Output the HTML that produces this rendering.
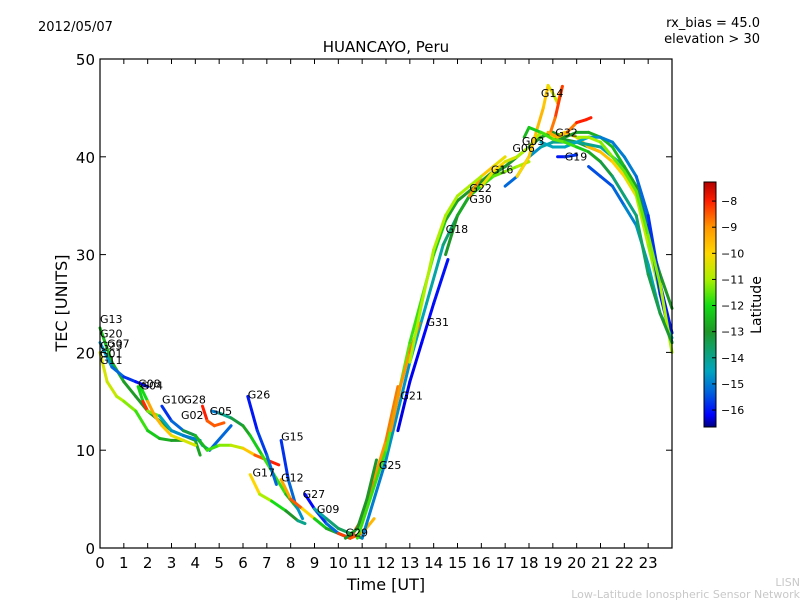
<!DOCTYPE html>
<html><head><meta charset="utf-8">
<style>
body{margin:0;background:#fff;}
svg{display:block;font-family:"DejaVu Sans","Liberation Sans",sans-serif;}
</style></head>
<body>
<svg id="chart" width="800" height="600" viewBox="0 0 800 600">
<rect width="800" height="600" fill="#fff"/>
<text x="38" y="31" font-size="13">2012/05/07</text>
<text x="760" y="27" font-size="13" text-anchor="end">rx_bias = 45.0</text>
<text x="760" y="43" font-size="13" text-anchor="end">elevation &gt; 30</text>
<text x="386" y="52" font-size="15" text-anchor="middle">HUANCAYO, Peru</text>
<g id="plot"></g>
<rect x="100" y="59" width="572" height="489" fill="none" stroke="#000" stroke-width="1.2"/>
<g id="axes"></g>
<text x="386" y="590" font-size="16" text-anchor="middle">Time [UT]</text>
<text transform="translate(67,303) rotate(-90)" font-size="16" text-anchor="middle">TEC [UNITS]</text>
<defs><linearGradient id="jet" x1="0" y1="1" x2="0" y2="0"></linearGradient></defs>
<rect x="704" y="182" width="12" height="245" fill="url(#jet)" stroke="#000" stroke-width="1"/>
<g id="cbticks"></g>
<text transform="translate(761,305) rotate(-90)" font-size="14" text-anchor="middle">Latitude</text>
<text x="800" y="586" font-size="11" fill="#c8c8c8" text-anchor="end">LISN</text>
<text x="800" y="598" font-size="11" fill="#c8c8c8" text-anchor="end">Low-Latitude Ionospheric Sensor Network</text>
</svg>
<script>
const xTicks=[0,1,2,3,4,5,6,7,8,9,10,11,12,13,14,15,16,17,18,19,20,21,22,23];
const yTicks=[0,10,20,30,40,50];
const cbTicks=[-8,-9,-10,-11,-12,-13,-14,-15,-16];
const latMin=-16.65, latMax=-7.27;
const names=["G13","G20","G11","G08","G04","G10","G28","G02","G05","G26","G15","G17","G12","G27","G09","G29","G21","G25","G31a","G18","G31","G30","G22","G16","G06","G03","G14","G32","G19","D1","D2","D3","D4","D5","D6"];
const times=[
[0,0.5,1,1.5,2,2.5,3,3.5,4,4.2],
[0,0.3,0.7,1,1.5,2,2.5,3,3.5],
[0,0.5,1,1.5,2],
[1.6,1.8,2,2.5,3,3.5,4.2],
[1.7,2,2.3,2.6,3,3.5,4],
[2.6,3,3.5,4,4.3,4.6,5.5],
[4.3,4.5,4.8,5.2],
[3.5,4,4.5,5,5.5,6,6.5,7,7.5],
[4.7,5,5.5,6,6.3,6.8,7.3,7.8,8.3],
[6.2,6.6,7,7.4],
[7.6,7.9,8.2,8.5],
[6.3,6.7,7.2,7.8,8.3,8.6],
[7.6,8,8.5,9,9.5,10,10.5],
[8.6,9,9.5,10,10.5],
[9,9.5,10,10.5,11],
[10,10.5,11,11.5],
[10.5,11,11.5,12,12.5],
[10.3,10.8,11.2,11.6],
[11,12,13,13.7,14.4,15,15.5,16,16.5,17,17.5],
[10.8,12,13,14,14.5,15,16,17,18,18.5,19,20,21],
[12.5,13,13.5,14,14.6],
[14.5,15,15.5,16,16.5,17,17.5,18],
[15.5,16,16.5,17],
[16,16.5,17,17.5,18,18.5,19,19.5,20,20.5,21,21.5,22,22.5,23,23.5,24],
[17,17.5,18,18.5,19,20,21,22,22.5,23,23.5,24],
[18,18.5,19,19.5,20,20.5,21,21.5,22,22.5,23,23.5,24],
[17.5,18,18.3,18.6,18.8,19,19.2,19.4,19.1,18.9],
[18.8,19.2,19.6,20,20.4,20.6],
[19.2,19.5,20],
[18.5,19,19.5,20,20.5,21,21.5,22,22.5,23,23.5,24],
[20.5,21,21.5,22,22.5,23,23.5,24],
[20,20.5,21,21.5,22,22.5,23,23.5,24],
[17.8,18,18.5,19,19.5,20,20.5,21,21.5,22,22.5,23,23.5,24],
[12.2,12.6,13,13.4],
[13,13.5,14,14.5,15,15.5,16]
];
const tecs=[
[22.5,19,17,15.5,14,13,12,11.5,11,9.5],
[20,17,15.5,15,14,12,11.2,11,11],
[21,18.5,17.5,17,16.5],
[16.5,15,14,13.5,12,11.5,11],
[16.5,15,13.5,12.5,11.5,11,10.5],
[14.5,13,12,11.5,10.5,10,12.5],
[14.5,13,12.5,12.8],
[12,11.5,10,10.5,10.5,10.2,9.5,9,8.5],
[14,13.8,13.3,12.5,11.5,9.5,7.5,5.5,4],
[15.5,12,9.5,6.5],
[11,7,4.5,3],
[7.5,5.5,4.8,3.8,2.8,2.5],
[7,5,4,3,2,1.5,1],
[5.5,4,2.5,1.5,1],
[4,3,2,1.5,1],
[1.5,1,1.5,3],
[1,3,7,11,16.5],
[1,2,5,9],
[1,9,19,25,31,34,36,37.5,38.5,39,40],
[1,10,21,30,33.5,35.5,37.5,39,41,42.5,42,41.5,40.5],
[12,17,21,25,29.5],
[30,34,36,37,38,38.5,39,39.5],
[36,38,39,40],
[37,38.5,39.5,40,41,42.5,42,42.5,42,41,40.5,39.5,38,36,31,26,22],
[37,38,40,41,41.5,41.5,41,39,37,33,26,21],
[41,42,42.5,42,42.5,42.5,42,41,39,37,32,28,24.5],
[38,40,42.5,45,47.3,46.5,45.5,47.2,44,42.5],
[42.5,42,42.5,43.5,43.8,44],
[40,40,40.2],
[41.5,41,41,41.5,42,42,41.5,40,38,34,27,22],
[39,38,37,35,33,29,24,21.5],
[42,42,41.5,40,38.5,36.5,32,27,20],
[42,43,42.5,41.8,41.5,41,40.5,39.5,38,36,34,28,24,21],
[12,16.5,20,23],
[19,25,30.5,34,36,37,38]
];
const lats=[
[-12.5,-12.5,-12.8,-13,-13,-13.2,-13.2,-13,-12.8,-12.8],
[-10.5,-10.5,-10.8,-11,-11.5,-12,-12.5,-12.8,-13],
[-14.5,-15,-15.5,-16,-16.2],
[-16.3,-8,-8.2,-14.5,-14.5,-15,-15],
[-15,-9,-9.5,-9.5,-10,-10.5,-10.5],
[-16,-15.5,-15,-14.5,-14,-14.5,-16],
[-8,-8,-9,-8],
[-13.5,-13,-12,-11.5,-11,-10.5,-9,-8,-8],
[-15.5,-14.5,-13.5,-13,-12.5,-12,-11.5,-12,-13],
[-16.2,-15.8,-15.5,-15],
[-16,-15.5,-15,-14.5],
[-9.5,-10.5,-11.5,-12.5,-13.5,-14.5],
[-9.5,-9,-8,-12,-12.5,-13,-13],
[-16.3,-16,-15.5,-15,-14.5],
[-14.5,-14,-13.5,-13.5,-13],
[-8.5,-8,-9,-10],
[-8.3,-8.5,-9,-9,-8.5],
[-13,-13,-13,-13],
[-15,-15,-14.5,-14.5,-14,-13.5,-13.5,-13,-13,-12.5,-12.5],
[-12,-11.5,-11.5,-12,-12.5,-13,-13,-13,-13,-13,-13,-13,-13.5],
[-16.3,-16.3,-16.2,-16.1,-16],
[-13,-13,-12.5,-12,-11.5,-11.5,-11,-11],
[-8.5,-9.5,-10,-10.5],
[-10.5,-10,-10,-11,-11,-11,-10.5,-10,-9.8,-9.5,-9.5,-9.8,-10,-10.5,-11,-11.2,-11.5],
[-15.5,-15,-15,-14.5,-14,-14,-14,-14.5,-15,-15.5,-16,-16],
[-13,-13,-13,-13,-12.8,-12.8,-12.5,-12.5,-12.5,-13,-13,-13,-13],
[-10,-10,-9.5,-9.5,-10,-10.5,-11,-8,-8.5,-9],
[-9,-9.5,-9.5,-8,-8,-8],
[-16,-16,-15.5],
[-14.5,-14.5,-14.5,-14.5,-14.5,-15,-15,-15,-15,-15.5,-16,-16],
[-15.5,-15.5,-15.5,-15,-14.8,-14.5,-14.5,-14.5],
[-11,-11,-11,-11.5,-11.5,-11.5,-11.5,-11,-11],
[-12.5,-12.5,-12,-11.5,-11.5,-12,-12.5,-13,-13.5,-14,-13.8,-13.5,-13.2,-13],
[-9,-9,-9,-8.5],
[-11,-11,-10.8,-11,-11,-11,-11]
];
const labelText=["G13","G20","G23","G07","G01","G11","G08","G04","G10","G28","G02","G05","G26","G15","G17","G12","G27","G09","G29","G25","G21","G31","G18","G30","G22","G16","G06","G03","G14","G32","G19"];
const labelT=[0,0,0,0.3,0,0,1.6,1.7,2.6,3.5,3.4,4.6,6.2,7.6,6.4,7.6,8.5,9.1,10.3,11.7,12.6,13.7,14.5,15.5,15.5,16.4,17.3,17.7,18.5,19.1,19.5];
const labelV=[23,21.5,20.3,20.5,19.5,18.8,16.4,16.2,14.8,14.8,13.2,13.6,15.3,11,7.3,6.8,5.1,3.6,1.2,8.1,15.2,22.7,32.2,35.3,36.4,38.3,40.5,41.2,46.1,42.1,39.6];
const cmapLat=[-16.65,-16.2,-15.3,-14.5,-13.5,-13,-12,-11,-10,-9,-8,-7.27];
const cmapRGB=[[0,0,128],[0,0,255],[0,100,220],[0,165,190],[20,160,90],[30,150,40],[20,220,20],[170,240,0],[255,215,0],[255,150,0],[255,30,0],[180,0,0]];
const NS="http://www.w3.org/2000/svg";
const X0=100,X1=672,Y0=548,Y1=59;
function sx(t){return X0+(t/24)*(X1-X0);}
function sy(v){return Y0-(v/50)*(Y0-Y1);}
function cbY(l){return 427-(l-latMin)/(latMax-latMin)*245;}
function cmap(l){
 l=Math.max(latMin,Math.min(latMax,l));
 for(let i=0;i<cmapLat.length-1;i++){
  if(l<=cmapLat[i+1]){const f=(l-cmapLat[i])/(cmapLat[i+1]-cmapLat[i]);
   const c=cmapRGB[i].map((v,k)=>Math.round(v+(cmapRGB[i+1][k]-v)*f));
   return `rgb(${c[0]},${c[1]},${c[2]})`;}
 }
 return 'rgb(180,0,0)';
}
const grad=document.getElementById('jet');
cmapLat.forEach((l,i)=>{const s=document.createElementNS(NS,'stop');
 s.setAttribute('offset',(l-latMin)/(latMax-latMin));
 s.setAttribute('stop-color',`rgb(${cmapRGB[i].join(',')})`);grad.appendChild(s);});
const plot=document.getElementById('plot');
for(let i=0;i<times.length;i++){
 const g=document.createElementNS(NS,'g');
 
 
 for(let j=0;j<times[i].length-1;j++){
  const ln=document.createElementNS(NS,'line');
  ln.setAttribute('x1',sx(times[i][j]));ln.setAttribute('y1',sy(tecs[i][j]));
  ln.setAttribute('x2',sx(times[i][j+1]));ln.setAttribute('y2',sy(tecs[i][j+1]));
  ln.setAttribute('stroke',cmap((lats[i][j]+lats[i][j+1])/2));
  ln.setAttribute('stroke-width','3');ln.setAttribute('stroke-linecap','round');
  
  
  g.appendChild(ln);
 }
 plot.appendChild(g);
}
for(let i=0;i<labelText.length;i++){
 const t=document.createElementNS(NS,'text');
 t.setAttribute('x',sx(labelT[i]));t.setAttribute('y',sy(labelV[i]));
 t.setAttribute('font-size','11');t.textContent=labelText[i];
 
 
 plot.appendChild(t);
}
const axes=document.getElementById('axes');
function addLine(x1,y1,x2,y2,parent){const l=document.createElementNS(NS,'line');l.setAttribute('x1',x1);l.setAttribute('y1',y1);l.setAttribute('x2',x2);l.setAttribute('y2',y2);l.setAttribute('stroke','#000');l.setAttribute('stroke-width','1');parent.appendChild(l);return l;}
xTicks.forEach(t=>{
 const x=sx(t);
 const a=addLine(x,Y0,x,Y0-5,axes);
 
 
 const b=addLine(x,Y1,x,Y1+5,axes);
 
 
 const tx=document.createElementNS(NS,'text');
 tx.setAttribute('x',x);tx.setAttribute('y',568);tx.setAttribute('font-size','15');tx.setAttribute('text-anchor','middle');
 tx.textContent=t;
 
 
 axes.appendChild(tx);
});
yTicks.forEach(v=>{
 const y=sy(v);
 const a=addLine(X0,y,X0+6,y,axes);
 
 
 const b=addLine(X1,y,X1-6,y,axes);
 
 
 const tx=document.createElementNS(NS,'text');
 tx.setAttribute('x',95);tx.setAttribute('y',y+6);tx.setAttribute('font-size','15');tx.setAttribute('text-anchor','end');
 tx.textContent=v;
 
 
 axes.appendChild(tx);
});
const cb=document.getElementById('cbticks');
cbTicks.forEach(v=>{
 const y=cbY(v);
 const a=addLine(712,y,716,y,cb);
 
 
 const tx=document.createElementNS(NS,'text');
 tx.setAttribute('x',721);tx.setAttribute('y',y+4);tx.setAttribute('font-size','11');
 tx.textContent='\u2212'+Math.abs(v);
 
 
 cb.appendChild(tx);
});
</script>
</body></html>
